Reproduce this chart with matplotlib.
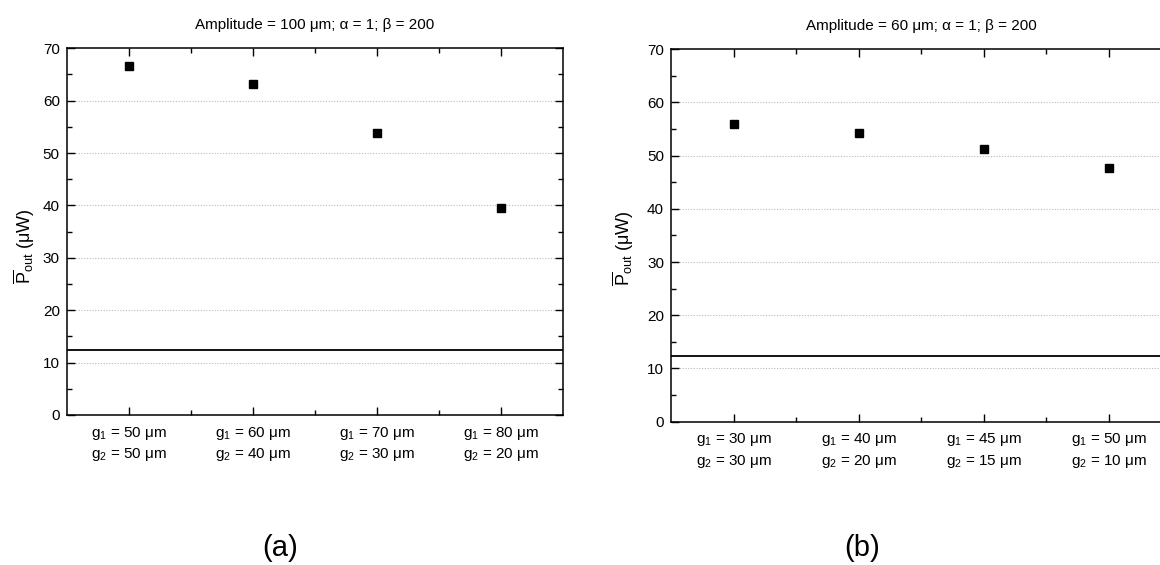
import matplotlib
matplotlib.use("Agg")
import matplotlib.pyplot as plt
from matplotlib.ticker import MultipleLocator, FixedLocator

plt.rcParams['font.family'] = ['Liberation Sans', 'DejaVu Sans']
plt.rcParams['mathtext.fontset'] = 'custom'
plt.rcParams['mathtext.rm'] = 'Liberation Sans'
plt.rcParams['mathtext.it'] = 'Liberation Sans:italic'
plt.rcParams['mathtext.bf'] = 'Liberation Sans:bold'

# ---- data ----
titles = ["Amplitude = 100 \u03bcm; \u03b1 = 1; \u03b2 = 200",
          "Amplitude = 60 \u03bcm; \u03b1 = 1; \u03b2 = 200"]
g1_a = [50, 60, 70, 80]
g2_a = [50, 40, 30, 20]
p_a = [66.7, 63.1, 53.9, 39.5]
ref_a = 12.35

g1_b = [30, 40, 45, 50]
g2_b = [30, 20, 15, 10]
p_b = [55.9, 54.2, 51.2, 47.6]
ref_b = 12.4

panel_labels = ["(a)", "(b)"]
ylabel_text = r"$\overline{\mathrm{P}}_{\mathrm{out}}$" + " (\u03bcW)"

W, H = 1160, 565
fig = plt.figure(figsize=(W / 100, H / 100), dpi=100)

def px_axes(x0, y_top, x1, y_bot):
    return [x0 / W, 1 - y_bot / H, (x1 - x0) / W, (y_bot - y_top) / H]

ax_a = fig.add_axes(px_axes(66.7, 48.3, 562.7, 415))
ax_b = fig.add_axes(px_axes(671, 49.3, 1171, 421.7))

def draw(ax, g1, g2, p, ref, title, label_x, label_y):
    x = list(range(1, len(p) + 1))
    ax.plot(x, p, linestyle='none', marker='s', markersize=5.5, color='black', zorder=3)
    ax.axhline(ref, color='black', linewidth=1.3, zorder=2)
    ax.set_xlim(0.5, len(p) + 0.5)
    ax.set_ylim(0, 70)
    ax.yaxis.set_major_locator(MultipleLocator(10))
    ax.yaxis.set_minor_locator(MultipleLocator(5))
    ax.xaxis.set_major_locator(FixedLocator(x))
    ax.xaxis.set_minor_locator(FixedLocator([v + 0.5 for v in x[:-1]]))
    ax.set_xticklabels([f"g$_1$ = {a} \u03bcm\ng$_2$ = {b} \u03bcm" for a, b in zip(g1, g2)],
                       fontsize=11, linespacing=1.35)
    ax.tick_params(axis='both', which='both', direction='in', top=True, right=True)
    ax.tick_params(axis='both', which='major', length=6, width=1.0, labelsize=11)
    ax.tick_params(axis='both', which='minor', length=3.5, width=1.0)
    ax.tick_params(axis='x', which='major', pad=7)
    ax.tick_params(axis='y', which='major', pad=5)
    for s in ax.spines.values():
        s.set_linewidth(1.1)
    for yv in range(10, 70, 10):
        ax.axhline(yv, color='#b8b8b8', linestyle=(0, (1, 1.5)), linewidth=0.8, zorder=1)
    ax.set_title(title, fontsize=11, pad=14)
    ax.set_ylabel(ylabel_text, fontsize=13)
    ax.yaxis.set_label_coords(label_x, label_y)

draw(ax_a, g1_a, g2_a, p_a, ref_a, titles[0], -0.060, 0.46)
draw(ax_b, g1_b, g2_b, p_b, ref_b, titles[1], -0.070, 0.465)

fig.text(280 / W, 1 - 548 / H, panel_labels[0], fontsize=21, ha='center', va='center')
fig.text(862 / W, 1 - 548 / H, panel_labels[1], fontsize=21, ha='center', va='center')

fig.savefig("out.png", dpi=100)
